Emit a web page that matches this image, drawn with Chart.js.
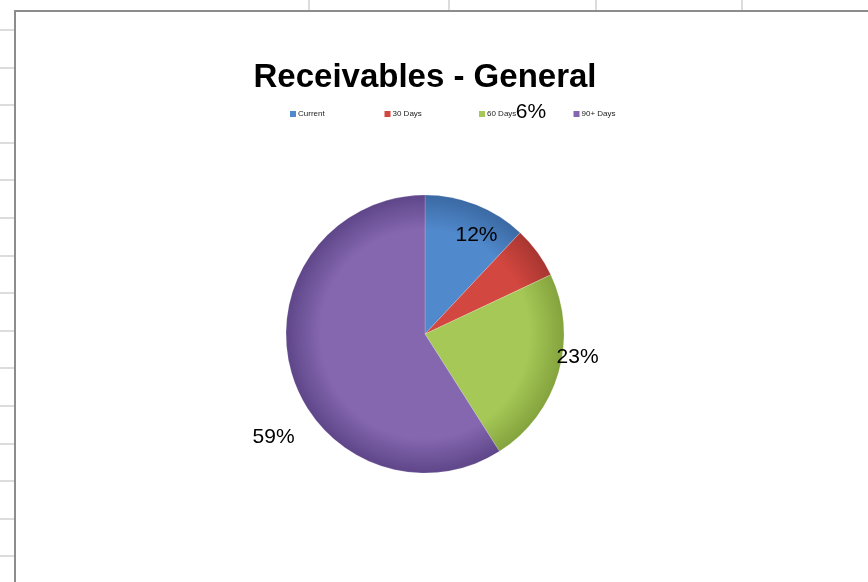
<!DOCTYPE html>
<html>
<head>
<meta charset="utf-8">
<script src="https://cdn.jsdelivr.net/npm/chart.js@4"></script>
<style>
  html, body { margin: 0; padding: 0; background: #fff; overflow: hidden; width: 868px; height: 582px; }
  .hline { position: absolute; left: 0; width: 14px; height: 2px; background: #dcdcdc; }
  .vline { position: absolute; top: 0; width: 2px; height: 10px; background: #dcdcdc; }
  #frame { position: absolute; left: 14px; top: 10px; width: 900px; height: 600px; border-left: 2px solid #8c8c8c; border-top: 2px solid #8c8c8c; background: #fff; }
  #chartBox { position: absolute; left: 0; top: 0; width: 868px; height: 600px; }
</style>
</head>
<body>
<div id="grid"></div>
<div id="frame"></div>
<div id="chartBox"><canvas id="pieChart" width="868" height="600"></canvas></div>
<script>
const categories = ['Current', '30 Days', '60 Days', '90+ Days'];
const percents = [12, 6, 23, 59];
const titleText = 'Receivables - General';

// Excel 2007 palette, lighter centre / darker rim
const innerColors = ['#5089cc', '#d2473f', '#a5c857', '#8567b0'];
const outerColors = ['#3b69a3', '#a83631', '#84a33d', '#5e4689'];

// label placement, relative to each slice's mid angle (degrees) and radius
const labelShift = [6, -28.5, -7.6, -18.2];
const labelDist = [0.8, 1.77, 1.11, 1.32];

// spreadsheet grid behind the chart
const grid = document.getElementById('grid');
for (let y = 30; y < 582; y += 37.6) {
    const d = document.createElement('div');
    d.className = 'hline';
    d.style.top = Math.round(y - 1) + 'px';
    grid.appendChild(d);
}
[309, 449, 596, 742].forEach(x => {
    const d = document.createElement('div');
    d.className = 'vline';
    d.style.left = (x - 1) + 'px';
    grid.appendChild(d);
});

const pieRadius = 139;

function sliceFill(context) {
    const chart = context.chart;
    const area = chart.chartArea;
    const i = context.dataIndex;
    if (!area) return innerColors[i];
    const cx = (area.left + area.right) / 2;
    const cy = (area.top + area.bottom) / 2;
    const g = chart.ctx.createRadialGradient(cx, cy, 0, cx, cy, pieRadius);
    g.addColorStop(0, innerColors[i]);
    g.addColorStop(0.75, innerColors[i]);
    g.addColorStop(1, outerColors[i]);
    return g;
}

const labelPlugin = {
    id: 'pctLabels',
    afterDatasetsDraw(chart) {
        const ctx = chart.ctx;
        const meta = chart.getDatasetMeta(0);
        ctx.save();
        ctx.font = '21px "Liberation Sans", Arial, sans-serif';
        ctx.fillStyle = '#000';
        ctx.textAlign = 'center';
        ctx.textBaseline = 'middle';
        meta.data.forEach((arc, i) => {
            const mid = (arc.startAngle + arc.endAngle) / 2 + labelShift[i] * Math.PI / 180;
            const d = arc.outerRadius * labelDist[i];
            ctx.fillText(percents[i] + '%', arc.x + Math.cos(mid) * d, arc.y + Math.sin(mid) * d);
        });
        ctx.restore();
    }
};

const legendLeft = 290;
const legendStep = 94.5;
const legendY = 114;

const legendPlugin = {
    id: 'rowLegend',
    afterDraw(chart) {
        const ctx = chart.ctx;
        ctx.save();
        ctx.font = '8px "Liberation Sans", Arial, sans-serif';
        ctx.textBaseline = 'middle';
        ctx.textAlign = 'left';
        categories.forEach((c, i) => {
            const x = legendLeft + i * legendStep;
            ctx.fillStyle = innerColors[i];
            ctx.fillRect(x, legendY - 3, 6, 6);
            ctx.fillStyle = '#222';
            ctx.fillText(c, x + 8, legendY);
        });
        ctx.restore();
    }
};

new Chart(document.getElementById('pieChart'), {
    type: 'pie',
    data: {
        labels: categories,
        datasets: [{
            data: percents,
            backgroundColor: sliceFill,
            borderColor: 'rgba(255,255,255,0.35)',
            borderWidth: 0.5,
            radius: pieRadius
        }]
    },
    options: {
        responsive: false,
        animation: false,
        events: [],
        layout: { padding: { left: 0, right: 18, top: 0, bottom: 26 } },
        plugins: {
            legend: { display: false },
            tooltip: { enabled: false },
            title: {
                display: true,
                text: titleText,
                color: '#000',
                font: { family: '"Liberation Sans", Arial, sans-serif', size: 33, weight: 'bold', lineHeight: 1 },
                padding: { top: 61, bottom: 0 }
            }
        }
    },
    plugins: [labelPlugin, legendPlugin]
});
</script>
</body>
</html>
